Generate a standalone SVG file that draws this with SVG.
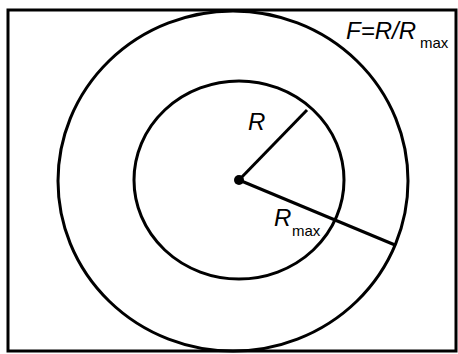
<svg xmlns="http://www.w3.org/2000/svg" width="458" height="354" viewBox="0 0 458 354">
<style>
.ln{fill:none;stroke:#000;stroke-width:3}
.t{font-family:"Liberation Sans",Arial,sans-serif;font-size:24px;font-style:italic;fill:#000}
.s{font-family:"Liberation Sans",Arial,sans-serif;font-size:15px;fill:#000}
</style>
<rect width="458" height="354" fill="#fff"/>
<g id="frame"><rect x="8" y="10" width="448" height="341" class="ln"/></g>
<g id="outer-circle"><ellipse cx="233" cy="181" rx="175" ry="170" class="ln"/></g>
<g id="inner-circle"><ellipse cx="239" cy="180" rx="105" ry="99" class="ln"/></g>
<g id="center"><circle cx="239" cy="180" r="5" fill="#000"/></g>
<g id="connectors">
<line x1="239" y1="180" x2="307" y2="110" class="ln"/>
<line x1="239" y1="180" x2="395" y2="245" class="ln"/>
</g>
<g id="label-R"><text x="248" y="130" class="t">R</text></g>
<g id="label-Rmax"><text x="274" y="226" class="t">R</text><text x="292" y="236" class="s">max</text></g>
<g id="label-F"><text x="346" y="39" class="t">F=R/R</text><text x="420" y="48" class="s">max</text></g>
</svg>
